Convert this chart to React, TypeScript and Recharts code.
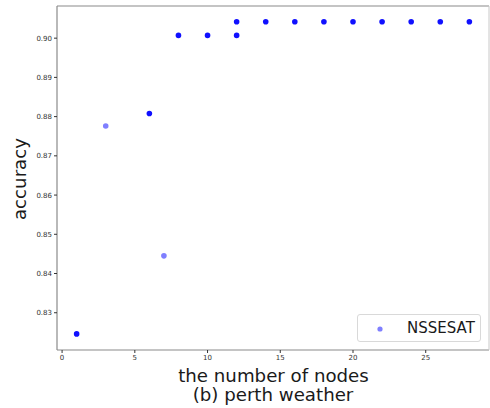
import { ScatterChart, Scatter, XAxis, YAxis, Label } from "recharts";

const nodeCounts = [1, 3, 6, 7, 8, 10, 12, 12, 14, 16, 18, 20, 22, 24, 26, 28];
const accuracyValues = [
  0.8246, 0.8776, 0.8808, 0.8445, 0.9007, 0.9007, 0.9007, 0.9042, 0.9042, 0.9042,
  0.9042, 0.9042, 0.9042, 0.9042, 0.9042, 0.9042,
];
// how many runs land on the same spot (darker dots in the original)
const overlapCounts = [4, 1, 4, 1, 4, 4, 4, 4, 4, 4, 4, 4, 4, 4, 4, 4];
const xTicks = [0, 5, 10, 15, 20, 25];
const yTicks = [0.83, 0.84, 0.85, 0.86, 0.87, 0.88, 0.89, 0.9];

const data = nodeCounts.map((n, i) => ({
  nodes: n,
  accuracy: accuracyValues[i],
  overlap: overlapCounts[i],
}));

const FONT = "DejaVu Sans, sans-serif";
const SPINE = "#8a8a8a";
const X_DOMAIN = [-0.35, 29.35];
const Y_DOMAIN = [0.8205, 0.9082];

const W = 490;
const H = 408;
const M = { top: 6, right: 1, bottom: 0, left: 0 };
const Y_AXIS_W = 57;
const X_AXIS_H = 58;

const Dot = (props: any) => {
  const { cx, cy, payload } = props;
  return (
    <circle
      cx={cx}
      cy={cy}
      r={2.8}
      fill="#0000ff"
      fillOpacity={1 - Math.pow(0.5, payload.overlap)}
    />
  );
};

// top + right spines and the two-line x label
const XLabel = () => {
  const left = M.left + Y_AXIS_W;
  const right = W - M.right;
  const top = M.top;
  const bottom = H - M.bottom - X_AXIS_H;
  return (
    <g>
      <line x1={left} y1={top} x2={right} y2={top} stroke={SPINE} strokeWidth={1.2} />
      <line x1={right} y1={top} x2={right} y2={bottom} stroke="#c8c8c8" strokeWidth={1} />
      <text fontFamily={FONT} fontSize={18.2} fill="#1a1a1a" textAnchor="middle">
        <tspan x={273.5} y={381.5}>the number of nodes</tspan>
        <tspan x={273} y={400.5}>(b) perth weather</tspan>
      </text>
    </g>
  );
};

export default function App() {
  return (
    <div style={{ position: "absolute", left: 0, top: 0, width: W, height: H }}>
      <ScatterChart width={W} height={H} margin={M}>
        <XAxis
          type="number"
          dataKey="nodes"
          domain={X_DOMAIN}
          ticks={xTicks}
          height={X_AXIS_H}
          tickSize={3}
          tickLine={{ stroke: "#333" }}
          axisLine={{ stroke: SPINE, strokeWidth: 1.2 }}
          tick={{ fill: "#333", fontSize: 7, fontFamily: FONT }}
          allowDataOverflow
        >
          <Label content={XLabel} />
        </XAxis>
        <YAxis
          type="number"
          dataKey="accuracy"
          domain={Y_DOMAIN}
          ticks={yTicks}
          width={Y_AXIS_W}
          tickSize={3}
          tickLine={{ stroke: "#333" }}
          axisLine={{ stroke: SPINE, strokeWidth: 1.2 }}
          tick={{ fill: "#333", fontSize: 7, fontFamily: FONT }}
          tickFormatter={(v: number) => v.toFixed(2)}
          allowDataOverflow
        >
          <Label
            content={() => (
              <text
                x={26}
                y={179}
                transform="rotate(-90 26 179)"
                fontFamily={FONT}
                fontSize={18.2}
                fill="#1a1a1a"
                textAnchor="middle"
              >
                accuracy
              </text>
            )}
          />
        </YAxis>
        <Scatter
          data={data}
          fill="#0000ff"
          shape={Dot}
          isAnimationActive={false}
        />
      </ScatterChart>
      <div
        style={{
          position: "absolute",
          left: 357,
          top: 314,
          width: 124,
          height: 28,
          border: "1px solid #d9d9d9",
          borderRadius: 3,
          background: "rgba(255,255,255,0.8)",
          fontFamily: FONT,
          fontSize: 15,
          color: "#1a1a1a",
          boxSizing: "border-box",
        }}
      >
        <svg
          width={8}
          height={8}
          style={{ position: "absolute", left: 18, top: 10 }}
        >
          <circle cx={4} cy={4} r={2.6} fill="#0000ff" fillOpacity={0.5} />
        </svg>
        <span style={{ position: "absolute", left: 49, top: 4, lineHeight: "18px" }}>
          NSSESAT
        </span>
      </div>
    </div>
  );
}
